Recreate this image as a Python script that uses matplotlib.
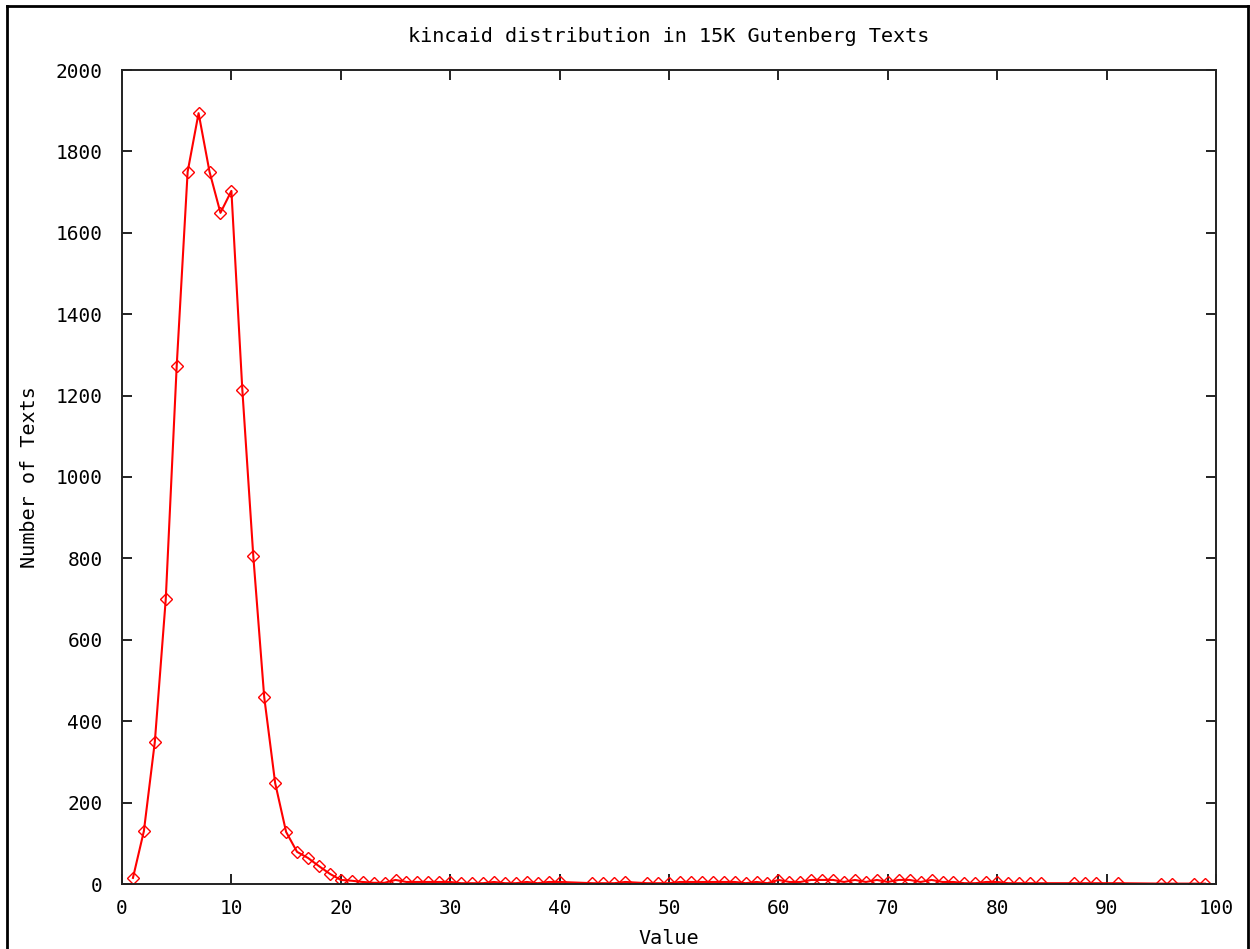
import numpy as np
import matplotlib
matplotlib.use("Agg")
import matplotlib.pyplot as plt
from matplotlib.lines import Line2D

# values (missing x values had no texts)
values = [1, 2, 3, 4, 5, 6, 7, 8, 9, 10,
          11, 12, 13, 14, 15, 16, 17, 18, 19, 20,
          21, 22, 23, 24, 25, 26, 27, 28, 29, 30,
          31, 32, 33, 34, 35, 36, 37, 38, 39, 40,
          43, 44, 45, 46, 48, 49, 50,
          51, 52, 53, 54, 55, 56, 57, 58, 59, 60,
          61, 62, 63, 64, 65, 66, 67, 68, 69, 70,
          71, 72, 73, 74, 75, 76, 77, 78, 79, 80,
          81, 82, 83, 84, 87, 88, 89, 91, 95, 96, 98, 99]
counts = [15, 130, 349, 700, 1273, 1750, 1894, 1750, 1649, 1703,
          1214, 806, 459, 248, 128, 79, 64, 44, 25, 10,
          8, 5, 3, 3, 10, 5, 5, 5, 5, 5,
          2, 2, 2, 5, 2, 2, 5, 2, 5, 5,
          2, 2, 2, 5, 2, 2, 2,
          5, 5, 5, 5, 5, 5, 2, 5, 2, 10,
          5, 5, 10, 10, 10, 5, 10, 5, 10, 5,
          10, 10, 5, 10, 5, 5, 2, 2, 5, 5,
          2, 2, 2, 2, 2, 2, 2, 2, 1, 1, 1, 1]

x_ticks = list(range(0, 101, 10))
y_ticks = list(range(0, 2001, 200))

FONT = "DejaVu Sans Mono"
FS = 14.5

fig = plt.figure(figsize=(12.5, 9.49), dpi=100)
ax = fig.add_axes([122 / 1250, 65 / 949, (1216 - 122) / 1250, (884 - 70) / 949])

ax.plot(values, counts, color="#ff0000", lw=1.5, marker="D", ms=6.5,
        mfc="none", mec="#ff0000", mew=1.0)

ax.set_xlim(0, 100)
ax.set_ylim(0, 2000)
ax.set_xticks(x_ticks)
ax.set_yticks(y_ticks)
ax.tick_params(direction="in", length=7, width=1.4, color="#222222",
               top=True, right=True, labelsize=14)
ax.tick_params(axis="x", pad=11)
ax.tick_params(axis="y", pad=14)
for lab in ax.get_xticklabels() + ax.get_yticklabels():
    lab.set_fontfamily(FONT)
for sp in ax.spines.values():
    sp.set_linewidth(1.4)
    sp.set_color("#222222")

fig.text(669 / 1250, 1 - 37 / 949, "kincaid distribution in 15K Gutenberg Texts",
         ha="center", va="center", fontsize=FS, family=FONT)
fig.text(30 / 1250, 1 - 477 / 949, "Number of Texts", rotation=90,
         ha="center", va="center", fontsize=FS, family=FONT)
fig.text(669 / 1250, 1 - 938 / 949, "Value",
         ha="center", va="center", fontsize=FS, family=FONT)

# outer frame of the original image
for xs, ys in [((7, 7), (0, 943)), ((7, 1248), (943, 943)), ((1248, 1248), (943, 0))]:
    fig.add_artist(Line2D([v / 1250 for v in xs], [v / 949 for v in ys],
                          color="black", lw=2))

fig.savefig("out.png", dpi=100)
